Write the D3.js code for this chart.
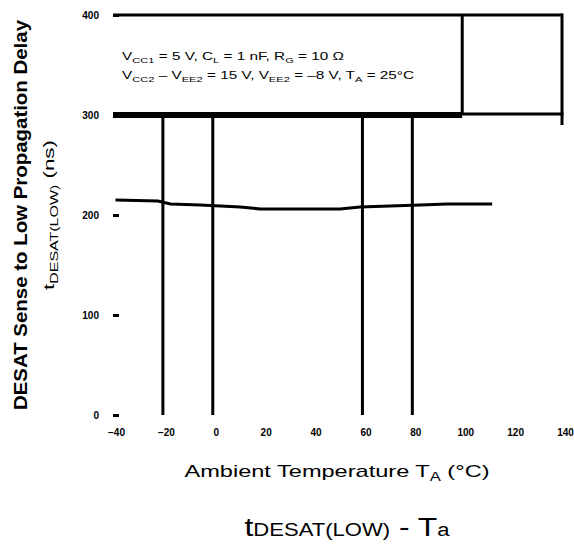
<!DOCTYPE html>
<html>
<head>
<meta charset="utf-8">
<script src="https://cdn.jsdelivr.net/npm/d3@7"></script>
<style>
  body { margin: 0; background: #fff; }
  svg { display: block; font-family: "Liberation Sans", Arial, sans-serif; }
</style>
</head>
<body>
<svg id="chart" width="574" height="548"></svg>
<script>
// data
const tempC = [-39, -22, -17, -5, 11, 19, 51, 59, 83, 94, 112];
const delayNs = [215, 214, 211, 210, 208, 206, 206, 208, 210, 211, 211];

const xTicks = [-40, -20, 0, 20, 40, 60, 80, 100, 120, 140];
const yTicks = [0, 100, 200, 300, 400];

// grid pieces that survive in the picture
const gridXLow = [-20, 0, 60, 80];   // 0 .. 300 ns
const gridXHigh = [100];             // 300 .. 400 ns

const legendLines = [
    ["V", "CC1", " = 5 V, C", "L", " = 1 nF, R", "G", " = 10 Ω"],
    ["V", "CC2", " – V", "EE2", " = 15 V, V", "EE2", " = –8 V, T", "A", " = 25°C"]
];
const legendLen = [222, 292];

const margin = { top: 15, right: 12, bottom: 133, left: 113 };
const width = 574, height = 548;
const innerW = width - margin.left - margin.right;
const innerH = height - margin.top - margin.bottom;

const svg = d3.select("#chart");
const g = svg.append("g").attr("transform", `translate(${margin.left},${margin.top})`);

const x = d3.scaleLinear().domain([-40, 140]).range([0, innerW]);
const y = d3.scaleLinear().domain([0, 400]).range([innerH, 0]);

// grid / frame
g.selectAll(".gl").data(gridXLow).enter().append("line")
    .attr("x1", d => x(d)).attr("x2", d => x(d))
    .attr("y1", y(0)).attr("y2", y(300))
    .attr("stroke", "#000").attr("stroke-width", 3);

g.selectAll(".gh").data(gridXHigh).enter().append("line")
    .attr("x1", d => x(d)).attr("x2", d => x(d))
    .attr("y1", y(300)).attr("y2", y(400))
    .attr("stroke", "#000").attr("stroke-width", 3);

g.append("line")
    .attr("x1", x(-40)).attr("x2", x(140)).attr("y1", y(400)).attr("y2", y(400))
    .attr("stroke", "#000").attr("stroke-width", 3);
g.append("line")
    .attr("x1", x(140)).attr("x2", x(140)).attr("y1", y(400) - 1.5).attr("y2", y(300) + 10)
    .attr("stroke", "#000").attr("stroke-width", 3);
g.append("line")
    .attr("x1", x(-40)).attr("x2", x(100)).attr("y1", y(300)).attr("y2", y(300))
    .attr("stroke", "#000").attr("stroke-width", 6);
g.append("line")
    .attr("x1", x(100)).attr("x2", x(140) + 1.5).attr("y1", y(300) - 1).attr("y2", y(300) - 1)
    .attr("stroke", "#000").attr("stroke-width", 3);

// legend text inside the box
const leg = g.append("g").attr("font-size", 11).attr("fill", "#000");
legendLines.forEach((parts, i) => {
    const t = leg.append("text").attr("x", 9).attr("y", 45 + i * 19)
        .attr("textLength", legendLen[i]).attr("lengthAdjust", "spacingAndGlyphs");
    parts.forEach((p, j) => {
        const sub = j % 2 === 1;
        t.append("tspan")
            .attr("font-size", sub ? 8 : 11)
            .attr("dy", sub ? 3 : (j > 0 ? -3 : 0))
            .text(p);
    });
});

// data line
const line = d3.line().x((d, i) => x(tempC[i])).y(d => y(d));
g.append("path")
    .datum(delayNs)
    .attr("fill", "none")
    .attr("stroke", "#000")
    .attr("stroke-width", 3)
    .attr("d", line);

// axes: ticks only, no domain line
const yAxis = g.append("g")
    .call(d3.axisLeft(y).tickValues(yTicks).tickSize(-6).tickPadding(14));
yAxis.select(".domain").remove();
yAxis.selectAll("line").attr("stroke-width", 3);
yAxis.selectAll("text").attr("font-size", 10).attr("font-weight", "bold").attr("fill", "#000");

const xAxis = g.append("g")
    .attr("transform", `translate(3,${innerH + 14})`)
    .call(d3.axisBottom(x).tickValues(xTicks).tickSize(0).tickPadding(0));
xAxis.select(".domain").remove();
xAxis.selectAll("text").attr("font-size", 10).attr("font-weight", "bold").attr("fill", "#000");

// axis titles
svg.append("text")
    .attr("transform", `translate(27,${margin.top + 200}) rotate(-90)`)
    .attr("text-anchor", "middle")
    .attr("font-size", 18).attr("font-weight", "bold")
    .attr("textLength", 390).attr("lengthAdjust", "spacingAndGlyphs")
    .text("DESAT Sense to Low Propagation Delay");

const yt2 = svg.append("text")
    .attr("transform", `translate(54,${margin.top + 200}) rotate(-90)`)
    .attr("text-anchor", "middle")
    .attr("font-size", 14)
    .attr("textLength", 150).attr("lengthAdjust", "spacingAndGlyphs");
yt2.append("tspan").text("t");
yt2.append("tspan").attr("font-size", 10).attr("dy", 4).text("DESAT(LOW)");
yt2.append("tspan").attr("dy", -4).text(" (ns)");

const xt = svg.append("text")
    .attr("x", 337).attr("y", 477)
    .attr("text-anchor", "middle")
    .attr("font-size", 17)
    .attr("textLength", 305).attr("lengthAdjust", "spacingAndGlyphs");
xt.append("tspan").text("Ambient Temperature T");
xt.append("tspan").attr("font-size", 12).attr("dy", 4).text("A");
xt.append("tspan").attr("dy", -4).text(" (°C)");

// caption
const cap = svg.append("text")
    .attr("x", 347).attr("y", 536)
    .attr("text-anchor", "middle")
    .attr("font-size", 26)
    .attr("textLength", 205).attr("lengthAdjust", "spacingAndGlyphs");
cap.append("tspan").text("t");
cap.append("tspan").attr("font-size", 18).text("DESAT(LOW)");
cap.append("tspan").text(" - T");
cap.append("tspan").attr("font-size", 18).text("a");
</script>
</body>
</html>
